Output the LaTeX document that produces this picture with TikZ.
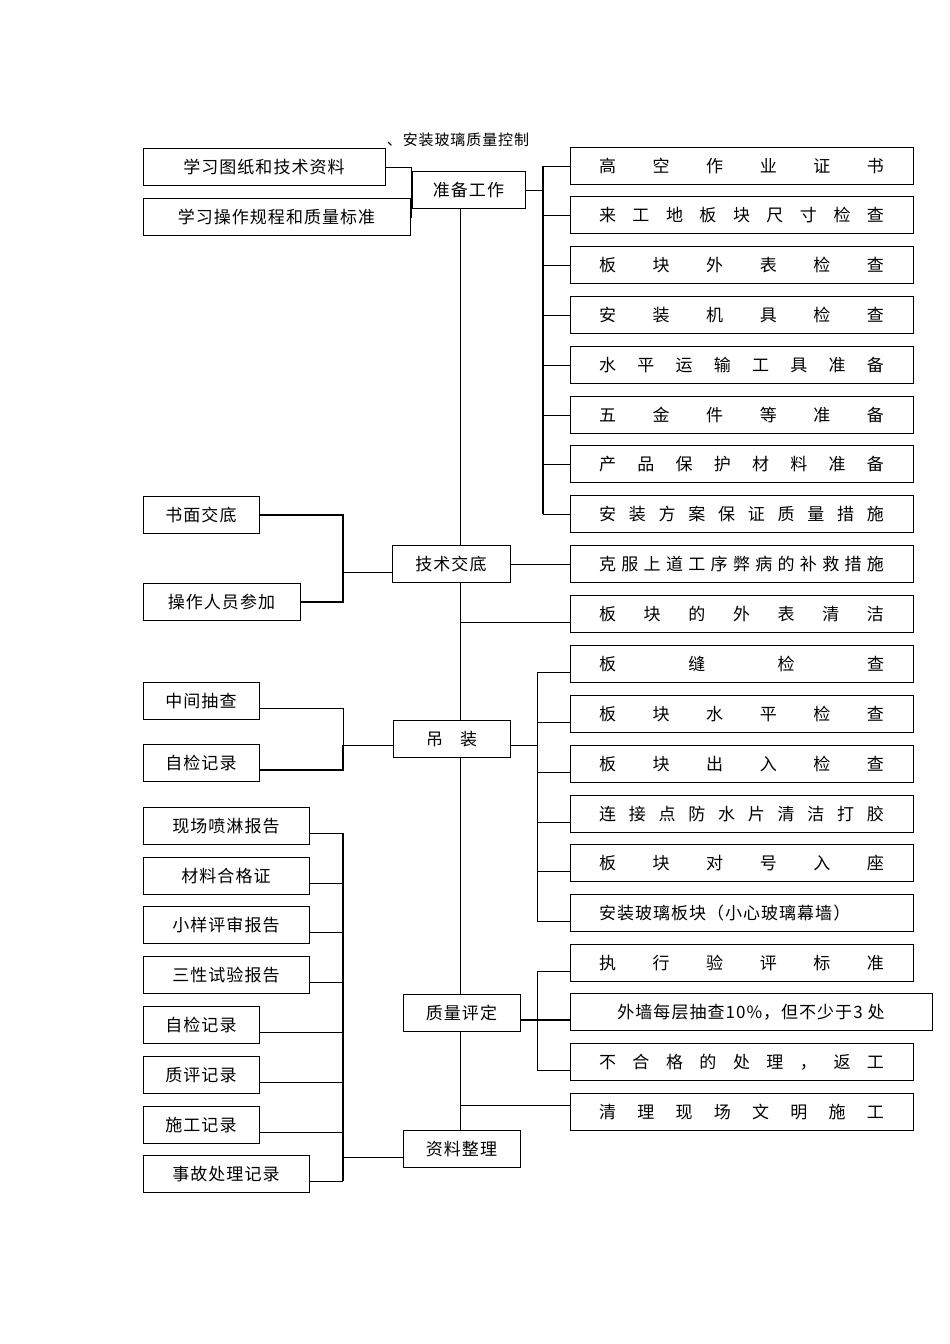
\documentclass[tikz,border=0pt]{standalone}
\usepackage{fontspec}
\newfontfamily\cjk[LetterSpace=6]{Noto Sans CJK SC}
\usetikzlibrary{positioning,backgrounds}
\newcommand{\spread}[1]{\makebox[285pt][s]{#1}}
\tikzset{
    box/.style={
        draw=black,
        fill=white,
        rectangle,
        line width=0.8pt,
        minimum height=37pt,
        inner sep=2pt,
        font=\cjk\fontsize{17}{20}\selectfont
    },
    rbox/.style={box, minimum width=343pt},
    line/.style={line width=0.8pt},
    bracket/.style={line width=1.4pt}
}
\begin{document}
\begin{tikzpicture}[x=1pt,y=-1pt]
    \useasboundingbox (0,0) rectangle (950,1344);
    \node[font=\cjk\fontsize{15}{18}\selectfont] (title) at (458,140) {、安装玻璃质量控制};

    % left column
    \node[box, minimum width=242pt] (l1) at (264,167) {学习图纸和技术资料};
    \node[box, minimum width=267pt] (l2) at (276.5,217) {学习操作规程和质量标准};
    \node[box, minimum width=116pt] (l3) at (201,515) {书面交底};
    \node[box, minimum width=157pt] (l4) at (221.5,602) {操作人员参加};
    \node[box, minimum width=116pt] (l5) at (201,701) {中间抽查};
    \node[box, minimum width=116pt] (l6) at (201,763) {自检记录};
    \node[box, minimum width=166pt] (l7) at (226,826) {现场喷淋报告};
    \node[box, minimum width=166pt] (l8) at (226,876) {材料合格证};
    \node[box, minimum width=166pt] (l9) at (226,925) {小样评审报告};
    \node[box, minimum width=166pt] (l10) at (226,975) {三性试验报告};
    \node[box, minimum width=116pt] (l11) at (201,1025) {自检记录};
    \node[box, minimum width=116pt] (l12) at (201,1075) {质评记录};
    \node[box, minimum width=116pt] (l13) at (201,1125) {施工记录};
    \node[box, minimum width=166pt] (l14) at (226,1174) {事故处理记录};

    % middle column
    \node[box, minimum width=113pt] (prep) at (468.5,190) {准备工作};
    \node[box, minimum width=118pt] (brief) at (451,564) {技术交底};
    \node[box, minimum width=117pt] (hoist) at (451.5,739) {吊\quad 装};
    \node[box, minimum width=117pt] (eval) at (461.5,1013) {质量评定};
    \node[box, minimum width=117pt] (data) at (461.5,1149) {资料整理};

    % right column
    \node[rbox] (r1) at (741.5,166) {\spread{高 空 作 业 证 书}};
    \node[rbox] (r2) at (741.5,215) {\spread{来 工 地 板 块 尺 寸 检 查}};
    \node[rbox] (r3) at (741.5,265) {\spread{板 块 外 表 检 查}};
    \node[rbox] (r4) at (741.5,315) {\spread{安 装 机 具 检 查}};
    \node[rbox] (r5) at (741.5,365) {\spread{水 平 运 输 工 具 准 备}};
    \node[rbox] (r6) at (741.5,415) {\spread{五 金 件 等 准 备}};
    \node[rbox] (r7) at (741.5,464) {\spread{产 品 保 护 材 料 准 备}};
    \node[rbox] (r8) at (741.5,514) {\spread{安 装 方 案 保 证 质 量 措 施}};
    \node[rbox] (r9) at (741.5,564) {\spread{克 服 上 道 工 序 弊 病 的 补 救 措 施}};
    \node[rbox] (r10) at (741.5,614) {\spread{板 块 的 外 表 清 洁}};
    \node[rbox] (r11) at (741.5,664) {\spread{板 缝 检 查}};
    \node[rbox] (r12) at (741.5,714) {\spread{板 块 水 平 检 查}};
    \node[rbox] (r13) at (741.5,764) {\spread{板 块 出 入 检 查}};
    \node[rbox] (r14) at (741.5,814) {\spread{连 接 点 防 水 片 清 洁 打 胶}};
    \node[rbox] (r15) at (741.5,863) {\spread{板 块 对 号 入 座}};
    \node[rbox] (r16) at (741.5,913) {\makebox[285pt][l]{安装玻璃板块（小心玻璃幕墙）}};
    \node[rbox] (r17) at (741.5,963) {\spread{执 行 验 评 标 准}};
    \node[rbox, minimum width=362pt] (r18) at (751,1012) {外墙每层抽查10\%，但不少于3 处};
    \node[rbox] (r19) at (741.5,1062) {\spread{不 合 格 的 处 理 ， 返 工}};
    \node[rbox] (r20) at (741.5,1112) {\spread{清 理 现 场 文 明 施 工}};

    \coordinate (sp) at (460,0);
    \coordinate (bA) at (543,190);
    \coordinate (bB) at (537,745);
    \coordinate (bC) at (537,1020);
    \coordinate (lA) at (343,572);
    \coordinate (lB) at (343,745);
    \coordinate (lC) at (343,1157);
    % lowered end points of the branches
    \foreach \r in {r10,r11,r12,r13,r14,r15,r16,r17,r19}
        \coordinate (\r w) at ([yshift=-8pt]\r.west);
    \coordinate (r20w) at ([yshift=7pt]r20.west);
    \foreach \l in {l5,l6,l7,l8,l9,l10,l11,l12,l13,l14}
        \coordinate (\l e) at ([yshift=-7pt]\l.east);

    \begin{scope}[on background layer]
        \draw[line] (sp |- prep.south) -- (sp |- data.north);
        \draw[line] (l1.east) -| (prep.west);
        \draw[line] (l2.east) -| (prep.west);
        % preparation bracket
        \draw[line] (prep.east |- bA) -- (bA);
        \draw[bracket] (bA |- r1) -- (bA |- r8);
        \foreach \r in {r1,r2,r3,r4,r5,r6,r7,r8}
            \draw[line] (bA |- \r) -- (\r.west);
        % briefing
        \draw[bracket] (l3.east) -| (lA |- l4) -- (l4.east);
        \draw[line] (lA) -- (brief.west |- lA);
        \draw[line] (brief.east) -- (r9.west);
        \draw[line] (sp |- r10w) -- (r10w);
        % hoisting
        \draw[line] (l5e) -| (lB);
        \draw[bracket] (lB) |- (l6e);
        \draw[line] (lB) -- (hoist.west |- lB);
        \draw[line] (hoist.east |- bB) -- (bB);
        \draw[line] (bB |- r11w) -- (bB |- r16w);
        \foreach \r in {r11,r12,r13,r14,r15,r16}
            \draw[line] (bB |- \r w) -- (\r w);
        % evaluation
        \draw[bracket] (eval.east |- bC) -- (r18.west |- bC);
        \draw[line] (bC |- r17w) -- (bC |- r19w);
        \foreach \r in {r17,r19}
            \draw[line] (bC |- \r w) -- (\r w);
        \draw[line] (sp |- r20w) -- (r20w);
        % records
        \draw[bracket] (lC |- l7e) -- (lC |- l14e);
        \foreach \l in {l7,l8,l9,l10,l11,l12,l13,l14}
            \draw[line] (\l e) -- (lC |- \l e);
        \draw[line] (lC) -- (data.west |- lC);
    \end{scope}
\end{tikzpicture}
\end{document}
